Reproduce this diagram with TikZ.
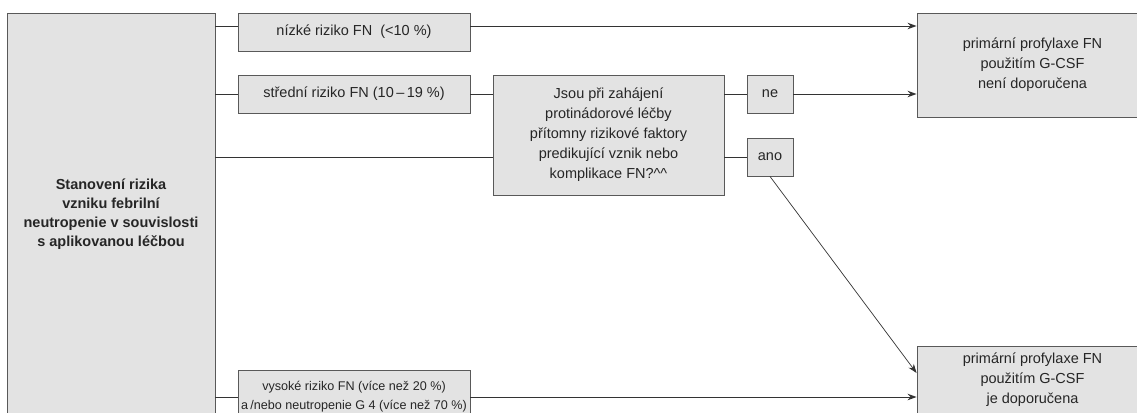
\documentclass[tikz,border=0pt]{standalone}
\usepackage{fontspec}
\setmainfont{Liberation Sans}
\usetikzlibrary{arrows.meta}

\begin{document}
\begin{tikzpicture}[%
        > = {Stealth[length = 9pt, width = 6.5pt]},
        x = 1pt,
        y = -1pt,
        line width = 0.9pt,
        box/.style = {draw = black!65, fill = black!11, text = black!85,
            align = center, inner sep = 0pt,
            font = \fontsize{14.5}{20}\selectfont},
        link/.style = {draw = black!80}
    ]

        % page frame: the outer boxes run over its edges.
        \clip (0, 0) rectangle (1137, 412);

        % Left box with the question that starts the chart.
        \node[box, minimum width = 208pt, minimum height = 402pt,
            font = \fontsize{14.5}{19}\bfseries\selectfont]
            (risk) at (111, 214)
            {Stanovení rizika\\vzniku febrilní\\neutropenie v souvislosti\\s aplikovanou léčbou};

        % The three levels of risk.
        \node[box, minimum width = 232pt, minimum height = 38pt]
            (nizke) at (354, 32) {nízké riziko FN\ \ (<10~\%)};
        \node[box, minimum width = 232pt, minimum height = 38pt]
            (stredni) at (354, 94) {střední riziko FN (10\,–\,19~\%)};
        \node[box, minimum width = 232pt, minimum height = 54pt,
            font = \fontsize{12.6}{19}\selectfont]
            (vysoke) at (354, 397)
            {vysoké riziko FN (více než 20~\%)\\a\,/nebo neutropenie G 4 (více než 70~\%)};

        % Question on the risk factors and its answers.
        \node[box, minimum width = 231pt, minimum height = 120pt]
            (otazka) at (608.5, 135)
            {Jsou při zahájení\\protinádorové léčby\\přítomny rizikové faktory\\predikující vznik nebo\\komplikace FN?\textasciicircum\textasciicircum};
        \node[box, minimum width = 46pt, minimum height = 38pt]
            (ne) at (770, 94) {ne};
        \node[box, minimum width = 46pt, minimum height = 38pt]
            (ano) at (770, 157) {ano};

        % Results.
        \node[box, minimum width = 231pt, minimum height = 104pt]
            (nedop) at (1032.5, 65)
            {primární profylaxe FN\\použitím G-CSF\\není doporučena};
        \node[box, minimum width = 231pt, minimum height = 68pt]
            (dop) at (1032.5, 380)
            {primární profylaxe FN\\použitím G-CSF\\je doporučena};

        \coordinate (n1) at ([yshift = 6pt]nizke.west);
        \coordinate (n2) at ([yshift = 6pt]nizke.east);
        \coordinate (d1) at ([yshift = 7pt]dop.west);

        % Connectors.
        \begin{scope}[link]
            \draw (risk.east |- n1) to (n1);
            \draw (risk.east |- stredni) to (stredni);
            \draw (risk.east |- ano) to (otazka.west |- ano);
            \draw (risk.east |- vysoke) to (vysoke);
            \draw (stredni) to (otazka.west |- stredni);
            \draw (otazka.east |- ne) to (ne);
            \draw (otazka.east |- ano) to (ano);
            \draw[->] (n2) to (nedop.west |- n2);
            \draw[->] (ne) to (nedop.west |- ne);
            \draw[->, line width = 0.7pt] (ano.south) to (d1);
            \draw[->] (vysoke) to (dop.west |- vysoke);
        \end{scope}
    \end{tikzpicture}
\end{document}
